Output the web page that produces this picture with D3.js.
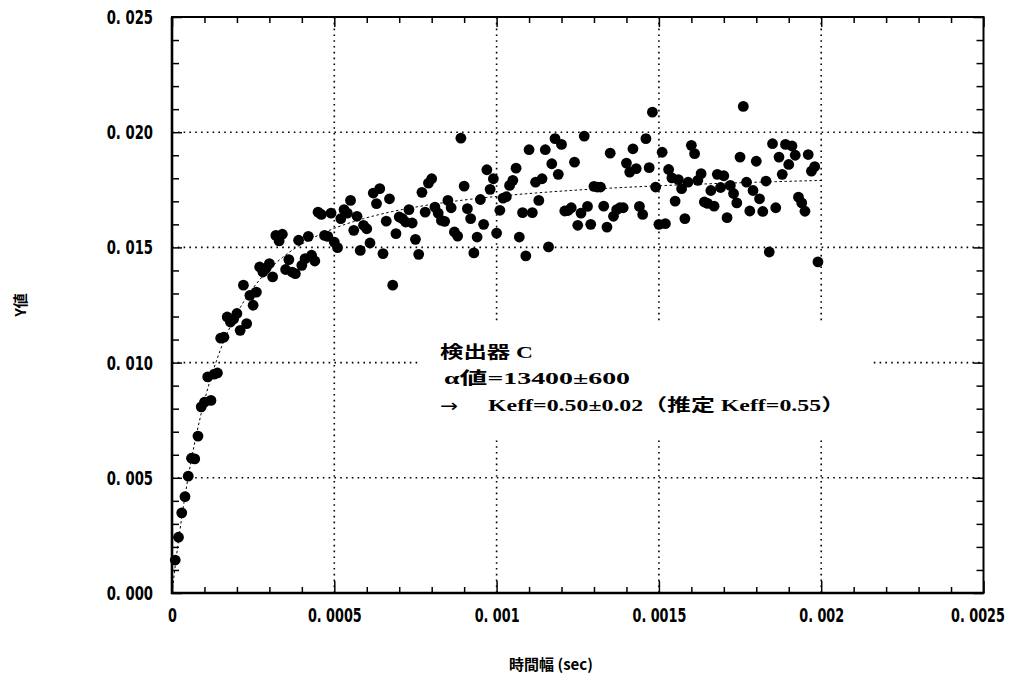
<!DOCTYPE html>
<html><head><meta charset="utf-8">
<script src="https://cdn.jsdelivr.net/npm/d3@7"></script>
<style>
html,body{margin:0;padding:0;background:#fff;}
svg{display:block;}
</style></head><body>
<svg id="chart" width="1020" height="677"></svg>
<script>
// Gate width step (sec): one measured bin every 10 µs
const gateStep = 1e-5;

// Measured Y values for detector C, one per gate width (10 µs … 1.99 ms)
const yValues = [
  0.00143, 0.00242, 0.00348, 0.00418, 0.00507, 0.00585, 0.00582, 0.00681, 0.00808, 0.00828,
  0.00938, 0.00836, 0.00950, 0.00955, 0.01106, 0.01110, 0.01198, 0.01176, 0.01190, 0.01213,
  0.01140, 0.01336, 0.01169, 0.01292, 0.01249, 0.01306, 0.01415, 0.01393, 0.01410, 0.01430,
  0.01372, 0.01552, 0.01528, 0.01557, 0.01404, 0.01447, 0.01393, 0.01386, 0.01531, 0.01422,
  0.01451, 0.01548, 0.01466, 0.01441, 0.01653, 0.01643, 0.01552, 0.01548, 0.01649, 0.01523,
  0.01499, 0.01625, 0.01664, 0.01649, 0.01704, 0.01574, 0.01635, 0.01487, 0.01596, 0.01581,
  0.01519, 0.01736, 0.01690, 0.01755, 0.01473, 0.01614, 0.01711, 0.01336, 0.01560, 0.01632,
  0.01625, 0.01610, 0.01664, 0.01606, 0.01535, 0.01470, 0.01739, 0.01653, 0.01779, 0.01798,
  0.01675, 0.01649, 0.01617, 0.01613, 0.01704, 0.01672, 0.01567, 0.01549, 0.01974, 0.01766,
  0.01668, 0.01625, 0.01476, 0.01545, 0.01708, 0.01600, 0.01837, 0.01752, 0.01798, 0.01562,
  0.01661, 0.01714, 0.01720, 0.01769, 0.01791, 0.01844, 0.01545, 0.01651, 0.01463, 0.01924,
  0.01651, 0.01783, 0.01704, 0.01798, 0.01924, 0.01502, 0.01863, 0.01972, 0.01817, 0.01947,
  0.01658, 0.01660, 0.01672, 0.01870, 0.01596, 0.01649, 0.01983, 0.01678, 0.01600, 0.01765,
  0.01762, 0.01762, 0.01679, 0.01588, 0.01909, 0.01635, 0.01664, 0.01672, 0.01672, 0.01866,
  0.01827, 0.01928, 0.01842, 0.01678, 0.01643, 0.01972, 0.01846, 0.02087, 0.01762, 0.01600,
  0.01913, 0.01603, 0.01838, 0.01802, 0.01701, 0.01794, 0.01755, 0.01625, 0.01783, 0.01943,
  0.01907, 0.01791, 0.01820, 0.01697, 0.01691, 0.01747, 0.01679, 0.01817, 0.01760, 0.01811,
  0.01629, 0.01769, 0.01734, 0.01693, 0.01892, 0.02112, 0.01783, 0.01658, 0.01747, 0.01874,
  0.01711, 0.01656, 0.01788, 0.01480, 0.01950, 0.01672, 0.01892, 0.01817, 0.01947, 0.01860,
  0.01940, 0.01900, 0.01718, 0.01693, 0.01657, 0.01903, 0.01831, 0.01851, 0.01437
];

const xTicks = [0, 0.0005, 0.001, 0.0015, 0.002, 0.0025];
const xTickLabels = ["0", "0. 0005", "0. 001", "0. 0015", "0. 002", "0. 0025"];
const yTicks = [0, 0.005, 0.010, 0.015, 0.020, 0.025];
const yTickLabels = ["0. 000", "0. 005", "0. 010", "0. 015", "0. 020", "0. 025"];

// Fitted Feynman-α curve: Y = Y∞ (1 − (1 − e^{−αT}) / (αT))
const alphaFit = 13400;
const yInfinity = 0.0186;
const fitEnd = 0.002;

const noteTitle = "検出器 C";
const noteAlpha = "α値=13400±600";
const noteArrow = "→";
const noteKeff = "Keff=0.50±0.02（推定 Keff=0.55）";

const xTitle = "時間幅 (sec)";
const yTitle = "Y値";

// ---------------------------------------------------------------
const svg = d3.select("#chart");
const plotLeft = 172, plotRight = 983.5, plotTop = 17, plotBottom = 593;

const x = d3.scaleLinear().domain([0, 0.0025]).range([plotLeft, plotRight]);
const y = d3.scaleLinear().domain([0, 0.025]).range([plotBottom, plotTop]);

const tickFont = "'DejaVu Sans', sans-serif";

// dotted grid at the inner major ticks
const grid = svg.append("g").attr("stroke", "#000").attr("stroke-width", 1.6)
  .attr("stroke-dasharray", "1.6,4.2");
grid.selectAll("line.gx").data(xTicks.slice(1, -1)).join("line")
  .attr("x1", d => x(d)).attr("x2", d => x(d)).attr("y1", plotTop).attr("y2", plotBottom);
grid.selectAll("line.gy").data(yTicks.slice(1, -1)).join("line")
  .attr("x1", plotLeft).attr("x2", plotRight).attr("y1", d => y(d)).attr("y2", d => y(d));

// minor and major ticks on all four sides, pointing inward
const xMinor = d3.range(1, 25).map(i => i * 0.0001).filter(v => Math.round(v * 10000) % 5 !== 0);
const yMinor = d3.range(1, 25).map(i => i * 0.001).filter(v => Math.round(v * 1000) % 5 !== 0);

function tickAxis(axisFn, scale, vals, size, tx, ty) {
  const g = svg.append("g").attr("transform", `translate(${tx},${ty})`)
    .call(axisFn(scale).tickValues(vals).tickSize(size).tickFormat(""));
  g.select(".domain").remove();
  g.selectAll("line").attr("stroke", "#000").attr("stroke-width", 1.5);
}
tickAxis(d3.axisBottom, x, xMinor, -6, 0, plotBottom);
tickAxis(d3.axisBottom, x, xTicks, -12, 0, plotBottom);
tickAxis(d3.axisTop, x, xMinor, -6, 0, plotTop);
tickAxis(d3.axisTop, x, xTicks, -10, 0, plotTop);
tickAxis(d3.axisLeft, y, yMinor, -7, plotLeft, 0);
tickAxis(d3.axisLeft, y, yTicks, -10, plotLeft, 0);
tickAxis(d3.axisRight, y, yMinor, -7, plotRight, 0);
tickAxis(d3.axisRight, y, yTicks, -10, plotRight, 0);

// frame (left and bottom edges drawn heavier)
svg.append("rect").attr("x", plotLeft).attr("y", plotTop)
  .attr("width", plotRight - plotLeft).attr("height", plotBottom - plotTop)
  .attr("fill", "none").attr("stroke", "#000").attr("stroke-width", 2);
svg.append("path")
  .attr("d", `M${plotLeft},${plotTop}V${plotBottom}H${plotRight}`)
  .attr("fill", "none").attr("stroke", "#000").attr("stroke-width", 2.6);

// tick labels: bold digits squeezed horizontally into a condensed face
function condense(k) {
  return sel => sel.each(function () {
    const t = d3.select(this);
    const x0 = +t.attr("x") || 0;
    t.attr("x", x0 / k).attr("transform", `scale(${k},1)`);
  });
}
const yLab = svg.append("g").attr("transform", `translate(${plotLeft},0)`)
  .call(d3.axisLeft(y).tickValues(yTicks).tickSize(0).tickPadding(19)
    .tickFormat((d, i) => yTickLabels[i]));
yLab.select(".domain").remove();
yLab.selectAll("text").attr("font-family", tickFont).attr("font-weight", "bold")
  .attr("font-size", 20).attr("fill", "#000").call(condense(0.66));

const xLab = svg.append("g").attr("transform", `translate(0,${plotBottom})`)
  .call(d3.axisBottom(x).tickValues(xTicks).tickSize(0).tickPadding(15)
    .tickFormat((d, i) => xTickLabels[i]));
xLab.select(".domain").remove();
// the last label sits slightly inside the right edge
xLab.selectAll("text").filter((d, i) => i === xTicks.length - 1).attr("x", -6);
xLab.selectAll("text").attr("font-family", tickFont).attr("font-weight", "bold")
  .attr("font-size", 20).attr("fill", "#000").call(condense(0.64));

// axis titles
svg.append("text").text(xTitle)
  .attr("x", 551).attr("y", 670).attr("text-anchor", "middle")
  .attr("font-family", "'Noto Sans CJK JP', sans-serif").attr("font-weight", "bold")
  .attr("font-size", 15).attr("fill", "#000");
svg.append("text").text(yTitle)
  .attr("transform", "translate(26,305) rotate(-90)").attr("text-anchor", "middle")
  .attr("font-family", "'Noto Sans CJK JP', sans-serif").attr("font-weight", "bold")
  .attr("font-size", 15).attr("fill", "#000");

// fitted curve
const fitT = d3.range(1, 201).map(i => i * fitEnd / 200);
const fitPts = fitT.map(t => [t, yInfinity * (1 - (1 - Math.exp(-alphaFit * t)) / (alphaFit * t))]);
svg.append("path").datum([[0, 0], ...fitPts])
  .attr("d", d3.line().x(d => x(d[0])).y(d => y(d[1])))
  .attr("fill", "none").attr("stroke", "#000").attr("stroke-width", 1)
  .attr("stroke-dasharray", "2.5,2.5");

// measured points
svg.append("g").selectAll("circle").data(yValues).join("circle")
  .attr("cx", (d, i) => x((i + 1) * gateStep))
  .attr("cy", d => y(d))
  .attr("r", 5.4).attr("fill", "#000");

// annotation box
svg.append("rect").attr("x", 421).attr("y", 324).attr("width", 452).attr("height", 113)
  .attr("fill", "#fff");
const noteFont = "'Liberation Serif', 'Noto Sans CJK JP', serif";
const note = svg.append("g").attr("font-family", noteFont).attr("font-weight", "bold")
  .attr("font-size", 17).attr("fill", "#000");
note.append("text").text(noteTitle).attr("x", 440).attr("y", 358)
  .attr("textLength", 93).attr("lengthAdjust", "spacingAndGlyphs");
note.append("text").text(noteAlpha).attr("x", 444).attr("y", 384)
  .attr("textLength", 186).attr("lengthAdjust", "spacingAndGlyphs");
note.append("text").text(noteArrow).attr("x", 440).attr("y", 412)
  .attr("font-family", "'DejaVu Sans', sans-serif").attr("font-weight", "normal")
  .attr("font-size", 18).attr("textLength", 18).attr("lengthAdjust", "spacingAndGlyphs");
note.append("text").text(noteKeff).attr("x", 488).attr("y", 411)
  .attr("textLength", 357).attr("lengthAdjust", "spacingAndGlyphs");
</script>
</body></html>
